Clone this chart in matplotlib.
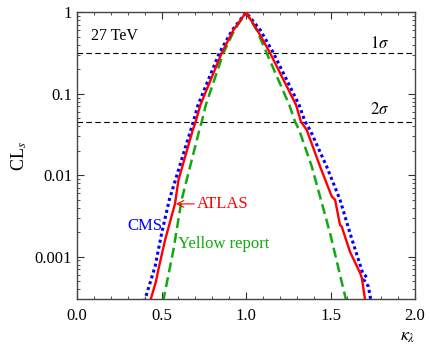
import matplotlib
matplotlib.use("Agg")
import matplotlib.pyplot as plt
from matplotlib.ticker import MultipleLocator, LogLocator, NullFormatter, FixedLocator

plt.rcParams["font.family"] = ["Liberation Serif", "DejaVu Serif"]
plt.rcParams["mathtext.fontset"] = "stix"

# kappa_lambda vs CLs
atlas_k = [0.432, 0.467, 0.481, 0.521, 0.580, 0.600, 0.685, 0.702, 0.730, 0.856, 0.924, 1.0,
           1.068, 1.142, 1.296, 1.325, 1.359, 1.438, 1.507, 1.527, 1.556, 1.566, 1.615, 1.675,
           1.685, 1.706]
atlas_cls = [2.8e-4, 4.95e-4, 6.9e-4, 1.6e-3, 4.5e-3, 8.7e-3, 0.036, 0.0455, 0.073, 0.317, 0.6, 1.0,
             0.6, 0.317, 0.073, 0.0455, 0.036, 0.0128, 5.5e-3, 5.0e-3, 2.45e-3, 2.35e-3, 1.15e-3, 6.3e-4,
             5.5e-4, 2.8e-4]

cms_k = [0.398, 0.462, 0.501, 0.546, 0.673, 0.688, 0.716, 0.842, 0.917, 1.0,
         1.086, 1.162, 1.314, 1.349, 1.379, 1.477, 1.556, 1.615, 1.690, 1.714, 1.698, 1.724, 1.740]
cms_cls = [2.8e-4, 7.6e-4, 1.95e-3, 5.0e-3, 0.036, 0.0455, 0.073, 0.317, 0.6, 1.0,
           0.6, 0.317, 0.073, 0.0455, 0.036, 0.0128, 5.0e-3, 1.95e-3, 6.3e-4, 5.6e-4, 5.2e-4, 4.3e-4, 2.8e-4]

yr_k = [0.509, 0.570, 0.619, 0.724, 0.738, 0.762, 0.866, 0.930, 1.0,
        1.064, 1.122, 1.256, 1.290, 1.314, 1.389, 1.497, 1.594]
yr_cls = [2.8e-4, 1.2e-3, 5.0e-3, 0.036, 0.0455, 0.073, 0.317, 0.6, 1.0,
          0.6, 0.317, 0.073, 0.0455, 0.036, 0.0128, 1.95e-3, 2.8e-4]

sigma_levels = [0.3173, 0.0455]
sigma_labels = [r"$1\sigma$", r"$2\sigma$"]
sigma_label_y = [0.41, 0.064]

fig = plt.figure(figsize=(4.31, 3.44), dpi=100)
ax = fig.add_axes([0.1787, 0.130, 0.7843, 0.834])

for lvl in sigma_levels:
    ax.axhline(lvl, color="black", lw=0.8, ls=(0, (5, 3)), zorder=1)

ax.plot(yr_k, yr_cls, color="#11a811", lw=1.8, ls=(0, (4, 2)), zorder=2)
ax.plot(cms_k, cms_cls, color="#0000ff", lw=2.2, ls=(0, (1, 1)), zorder=3)
ax.plot(atlas_k, atlas_cls, color="#ff0000", lw=1.7, zorder=4)

ax.set_yscale("log")
ax.set_xlim(0.0, 2.0)
ax.set_ylim(3e-4, 1.0)

ax.xaxis.set_major_locator(FixedLocator([0.0, 0.5, 1.0, 1.5, 2.0]))
ax.xaxis.set_minor_locator(MultipleLocator(0.1))
ax.set_xticklabels(["0.0", "0.5", "1.0", "1.5", "2.0"])
ax.yaxis.set_major_locator(FixedLocator([1e-3, 1e-2, 1e-1, 1.0]))
ax.set_yticklabels(["0.001", "0.01", "0.1", "1"])
ax.yaxis.set_minor_locator(LogLocator(base=10, subs=range(2, 10)))
ax.yaxis.set_minor_formatter(NullFormatter())

ax.tick_params(which="both", direction="in", top=True, right=True, labelsize=12, colors="#333333",
               labelcolor="black")
ax.tick_params(which="major", length=5, width=0.8)
ax.tick_params(which="minor", length=2.5, width=0.6)
ax.tick_params(axis="x", pad=6)
for s in ax.spines.values():
    s.set_color("#444444")
    s.set_linewidth(1.0)

ax.set_ylabel(r"CL$_s$", fontsize=13, labelpad=4)
fig.text(0.946, 0.022, r"$\kappa_\lambda$", fontsize=13, ha="center", va="center")

ax.text(0.08, 0.52, "27 TeV", fontsize=11.5, va="center", ha="left")
for y, lab in zip(sigma_label_y, sigma_labels):
    ax.text(1.79, y, lab, fontsize=12, ha="center", va="center")

ax.annotate("ATLAS", xy=(0.585, 4.45e-3), xytext=(0.71, 4.45e-3), color="#ff0000", fontsize=12,
            ha="left", va="center",
            arrowprops=dict(arrowstyle="->", color="#ff0000", lw=0.8, shrinkA=0, shrinkB=0))
ax.text(0.30, 2.4e-3, "CMS", color="#0000ff", fontsize=12, ha="left", va="center")
ax.text(0.60, 1.45e-3, "Yellow report", color="#11a811", fontsize=12, ha="left", va="center")

fig.savefig("out.png", dpi=100)
